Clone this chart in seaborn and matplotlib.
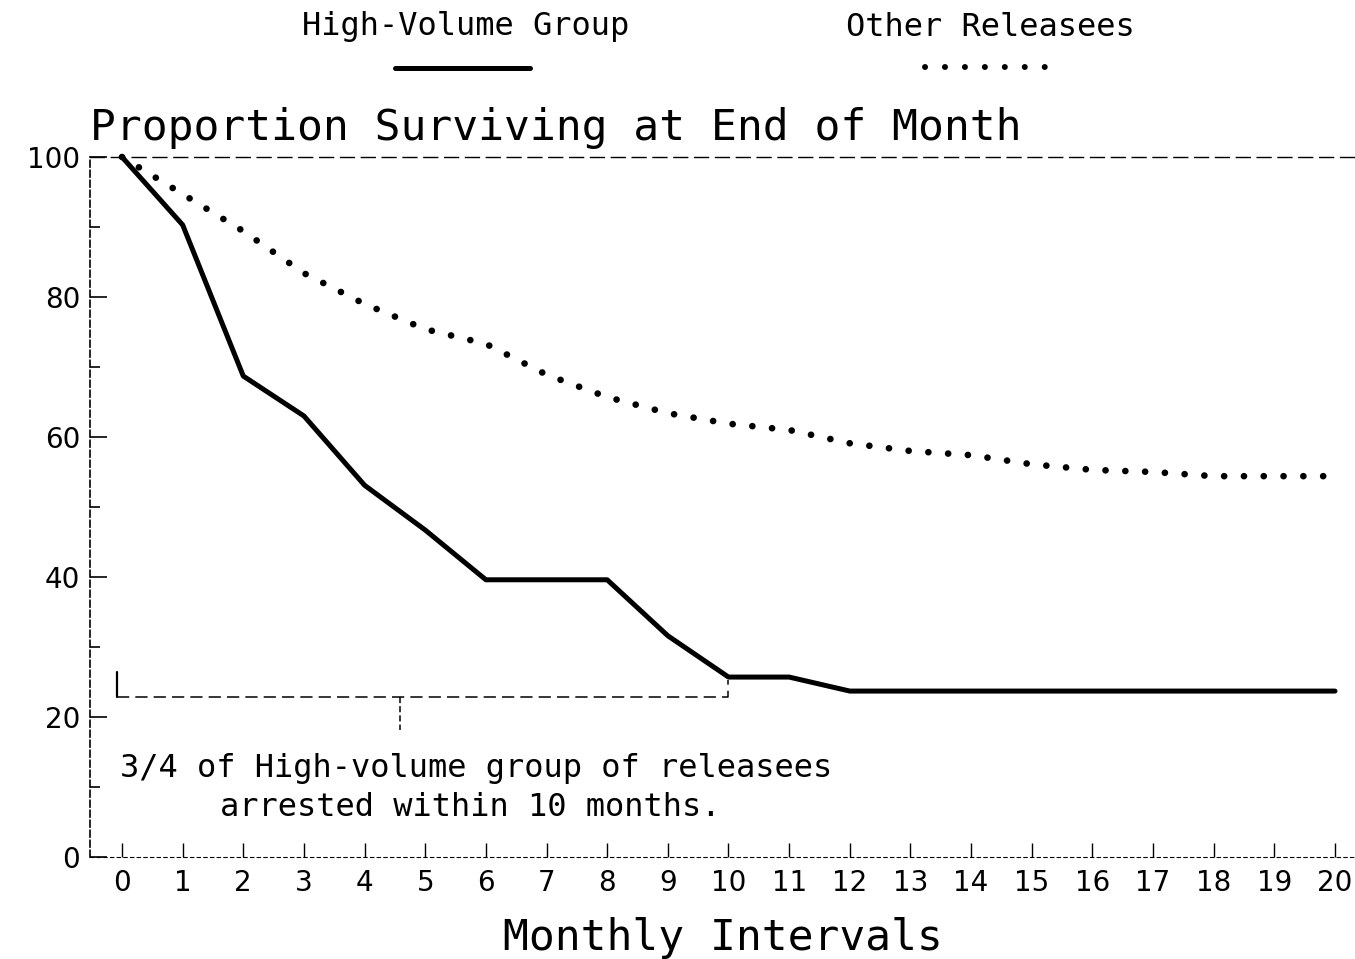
"""
Survival curve: high-volume group vs other releasees
"""
import matplotlib
matplotlib.use('Agg')
import matplotlib.pyplot as plt
from matplotlib.lines import Line2D
import seaborn as sns
import pandas as pd

# ----------------------------------------------------------------------------
# data
# ----------------------------------------------------------------------------
months = list(range(21))
high_volume = [100, 90.3, 68.7, 63.0, 53.1, 46.7, 39.6, 39.6, 39.6, 31.6, 25.7,
               25.7, 23.7, 23.7, 23.7, 23.7, 23.7, 23.7, 23.7, 23.7, 23.7]
other_releasees = [100, 94.7, 89.4, 83.4, 79.0, 75.4, 73.3, 68.9, 65.7, 63.4, 61.9,
                   61.0, 59.1, 58.0, 57.4, 56.1, 55.3, 55.0, 54.4, 54.4, 54.4]
series_names = ['High-Volume Group', 'Other Releasees']
y_ticks = [0, 20, 40, 60, 80, 100]
y_minor = [10, 30, 50, 70, 90]

# bracket showing "3/4 arrested within 10 months"
bracket_x = [-0.08, 10.0, 10.0]
bracket_y = [22.9, 22.9, 25.3]
note_lines = ['3/4 of High-volume group of releasees', 'arrested within 10 months.']

df = pd.DataFrame({
    'month': months * 2,
    'pct': high_volume + other_releasees,
    'group': [series_names[0]] * len(months) + [series_names[1]] * len(months),
})

sns.set_style('ticks')
plt.rcParams['font.family'] = ['DejaVu Sans Mono', 'DejaVu Sans']
plt.rcParams['text.color'] = 'black'
plt.rcParams['axes.labelcolor'] = 'black'
plt.rcParams['xtick.color'] = 'black'
plt.rcParams['ytick.color'] = 'black'
plt.rcParams['axes.edgecolor'] = 'black'

fig = plt.figure(figsize=(13.55, 9.59), dpi=100)
ax = fig.add_axes([0.0664, 0.1064, 0.9336, 0.7299])

# solid line - high volume group
sns.lineplot(data=df[df['group'] == series_names[0]], x='month', y='pct', ax=ax,
             color='black', lw=3.6, legend=False, clip_on=False)
# dotted line - other releasees
sns.lineplot(data=df[df['group'] == series_names[1]], x='month', y='pct', ax=ax,
             color='black', lw=4.8, legend=False, clip_on=False)
dot_line = ax.lines[-1]
dot_line.set_linestyle((0, (0.01, 2.96)))
dot_line.set_dash_capstyle('round')

ax.set_xlim(-0.528, 20.33)
ax.set_ylim(0, 100)

ax.set_xticks(months)
ax.set_xticklabels([str(m) for m in months], family='DejaVu Sans')
ax.set_yticks(y_ticks)
ax.set_yticklabels([str(v) for v in y_ticks], family='DejaVu Sans')
ax.set_yticks(y_minor, minor=True)
ax.tick_params(axis='x', direction='in', length=10, width=1, pad=9, labelsize=20)
ax.tick_params(axis='y', which='major', direction='in', length=12, width=1.2, pad=7, labelsize=20)
ax.tick_params(axis='y', which='minor', direction='in', length=7, width=1.2)

ax.spines['right'].set_visible(False)
ax.spines['top'].set_linestyle((0, (10, 5)))
ax.spines['top'].set_linewidth(1.0)
ax.spines['left'].set_linestyle((0, (4, 2)))
ax.spines['left'].set_linewidth(1.2)
ax.spines['bottom'].set_linestyle((0, (3, 3)))
ax.spines['bottom'].set_linewidth(0.8)

ax.set_xlabel('Monthly Intervals', fontsize=31, labelpad=14)
ax.set_ylabel('')

# annotation bracket
ax.plot([bracket_x[0], bracket_x[0]], [26.4, bracket_y[0]], color='black', lw=1.6)
ax.plot(bracket_x, bracket_y, color='black', lw=1.1, ls=(0, (8, 4)))
ax.plot([4.58, 4.58], [22.9, 18.1], color='black', lw=1.1, ls=(0, (4, 2)))
ax.text(-0.03, 12.7, note_lines[0], fontsize=23, va='center', ha='left')
ax.text(1.62, 7.0, note_lines[1], fontsize=23, va='center', ha='left')

# title
fig.text(90 / 1355, 1 - 140 / 959, 'Proportion Surviving at End of Month',
         fontsize=31, va='baseline', ha='left')

# legend drawn above the plot: label on top, line sample underneath
fig.text(466 / 1355, 1 - 27 / 959, series_names[0], fontsize=23, ha='center', va='center')
fig.text(990 / 1355, 1 - 27 / 959, series_names[1], fontsize=23, ha='center', va='center')
fig.add_artist(Line2D([395 / 1355, 530 / 1355], [1 - 68 / 959] * 2,
                      transform=fig.transFigure, color='black', lw=3.6))
fig.add_artist(Line2D([925 / 1355, 1047 / 1355], [1 - 67 / 959] * 2,
                      transform=fig.transFigure, color='black', lw=4.3,
                      ls=(0, (0.01, 3.33)), dash_capstyle='round'))

plt.savefig('out.png', dpi=100)
